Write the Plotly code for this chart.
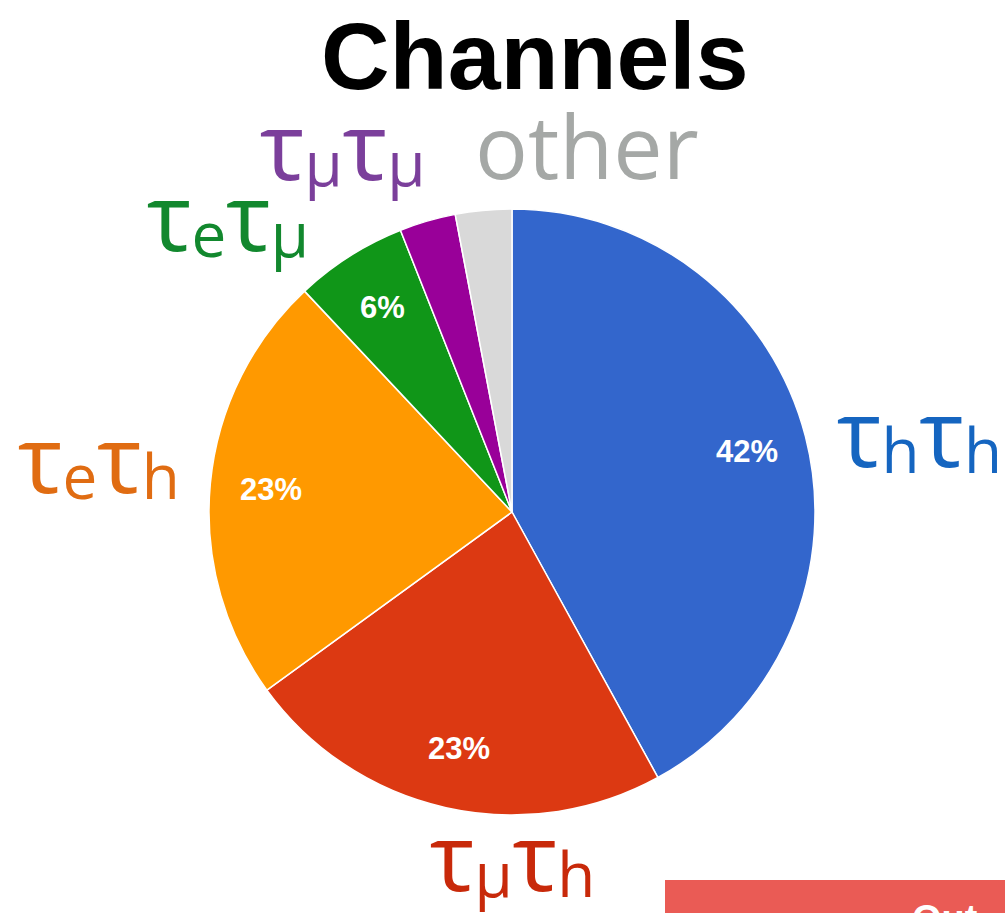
import math
import plotly.graph_objects as go

# Tau-pair decay channel shares (percent), clockwise from 12 o'clock
channels = ["τhτh", "τμτh", "τeτh", "τeτμ", "τμτμ", "other"]
shares = [42, 23, 23, 6, 3, 3]
slice_colors = ["#3366CC", "#DC3912", "#FF9900", "#109618", "#990099", "#D9D9D9"]
label_colors = ["#1565C0", "#C8290A", "#E06C12", "#12882E", "#7B3F9B", "#A5A8A6"]
# (main symbol, subscript) pairs for the channel names drawn around the pie
label_parts = [
    [("τ", "h"), ("τ", "h")],
    [("τ", "μ"), ("τ", "h")],
    [("τ", "e"), ("τ", "h")],
    [("τ", "e"), ("τ", "μ")],
    [("τ", "μ"), ("τ", "μ")],
    None,
]
# percent text only on slices big enough to hold it
show_pct = [True, True, True, True, False, False]

W, H = 1005, 913
# pie placement in pixels
CX, CY, R = 512, 512, 303

fig = go.Figure()
fig.add_trace(go.Pie(
    labels=channels,
    values=shares,
    sort=False,
    direction="clockwise",
    rotation=0,
    marker=dict(colors=slice_colors, line=dict(color="white", width=1.5)),
    textinfo="none",
    hoverinfo="label+percent",
    showlegend=False,
    domain=dict(x=[(CX - R) / W, (CX + R) / W], y=[1 - (CY + R) / H, 1 - (CY - R) / H]),
))


def px(x, y):
    return x / W, 1 - y / H


# percent labels at 0.8 of the radius along each slice's mid-angle
total = sum(shares)
start = 0.0
for v, show in zip(shares, show_pct):
    mid = (start + v / 2) / total * 2 * math.pi
    start += v
    if not show:
        continue
    lx = CX + 0.8 * R * math.sin(mid)
    ly = CY - 0.8 * R * math.cos(mid)
    ax, ay = px(lx, ly)
    fig.add_annotation(x=ax, y=ay, xref="paper", yref="paper",
                       text=f"<b>{round(100 * v / total)}%</b>",
                       showarrow=False, xanchor="center", yanchor="middle",
                       font=dict(family="Liberation Sans", size=31, color="white"))

# title
tx, ty = px(535, 56)
fig.add_annotation(x=tx, y=ty, xref="paper", yref="paper", text="<b>Channels</b>",
                   showarrow=False, xanchor="center", yanchor="middle",
                   font=dict(family="Liberation Sans", size=95, color="black"))

# channel labels placed around the pie
MAIN, SUB = 94, 62
label_pos = [(835, 431), (428, 855), (16, 457), (145, 215), (258, 144), (473, 145)]
for parts, col, (lx, ly) in zip(label_parts, label_colors, label_pos):
    ax, ay = px(lx, ly)
    if parts is None:
        txt, size = "other", 88
    else:
        txt = "".join(
            f"{m}<span style='font-size:{SUB}px;baseline-shift:-6px'>{s}</span>"
            for m, s in parts
        )
        size = MAIN
    fig.add_annotation(x=ax, y=ay, xref="paper", yref="paper", text=txt,
                       showarrow=False, xanchor="left", yanchor="middle",
                       font=dict(family="Open Sans", size=size, color=col))

# red banner at the lower right
fig.add_shape(type="rect", xref="paper", yref="paper",
              x0=665 / W, x1=1.0, y0=0, y1=1 - 880 / H,
              fillcolor="#EA5B55", line=dict(width=0), layer="above")
bx, by = px(910, 896)
fig.add_annotation(x=bx, y=by, xref="paper", yref="paper", text="<b>Out</b>",
                   showarrow=False, xanchor="left", yanchor="top",
                   font=dict(family="Liberation Sans", size=38, color="white"))

fig.update_layout(
    width=W, height=H,
    margin=dict(l=0, r=0, t=0, b=0),
    paper_bgcolor="white",
    plot_bgcolor="white",
)

fig.write_html("out.html")
